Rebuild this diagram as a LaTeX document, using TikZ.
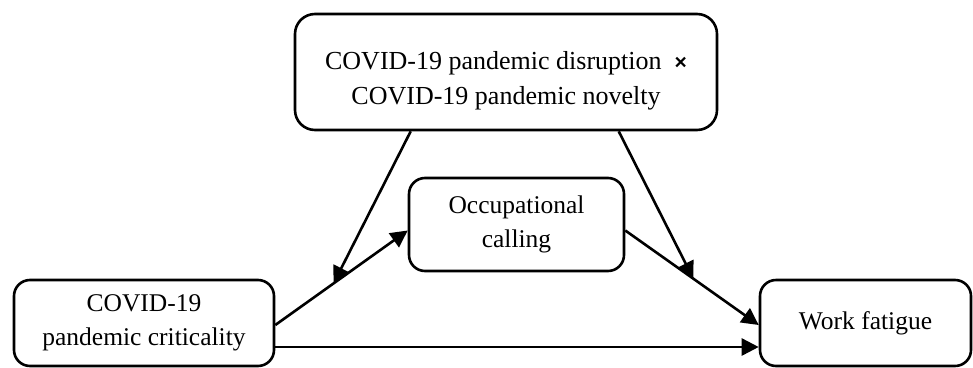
\documentclass[tikz,border=0pt]{standalone}
\usepackage{fontspec}
\setmainfont{Liberation Serif}
\newfontfamily\xfont{Liberation Sans}
\usetikzlibrary{arrows.meta,calc}
\begin{document}
\begin{tikzpicture}[x=1pt,y=-1pt,
  box/.style={draw,line width=2.6pt,inner sep=0pt,align=center,
    font=\fontsize{25.5}{34}\selectfont},
  arr/.style={line width=2.6pt,-{Triangle[length=17pt,width=17pt]}}]
\useasboundingbox (0,0) rectangle (973,367);
\node[box,rounded corners=20pt,minimum width=422pt,minimum height=116pt,
  font=\fontsize{26}{35}\selectfont] (T) at (506,72)
  {\raisebox{-8pt}[\height][\depth]{\begin{tabular}{@{}c@{}}COVID-19 pandemic disruption \ {\xfont\bfseries\fontsize{21}{21}\selectfont ×}\\COVID-19 pandemic novelty\end{tabular}}};
\node[box,rounded corners=16pt,minimum width=215pt,minimum height=93pt] (M) at (516.5,224.5)
  {Occupational\\calling};
\node[box,rounded corners=16pt,minimum width=260pt,minimum height=86pt] (L) at (144,323)
  {COVID-19\\pandemic criticality};
\node[box,rounded corners=16pt,minimum width=211pt,minimum height=86pt] (R) at (865.5,323)
  {Work fatigue};
\coordinate (a1) at ($(L.east)+(0,2)$);
\coordinate (a2) at ($(M.west)+(0,6)$);
\draw[arr] (a1) -- (a2) coordinate[pos=0.44] (p1);
\coordinate (b1) at ($(M.east)+(0,6)$);
\coordinate (b2) at ($(R.west)+(0,2)$);
\draw[arr] (b1) -- (b2) coordinate[pos=0.51] (p2);
\draw[arr] ($(L.east)+(0,24)$) -- ($(R.west)+(0,24)$);
\draw[arr] ($(T.south west)+(117,0)$) -- (p1);
\draw[arr] ($(T.south west)+(325,0)$) -- (p2);
\end{tikzpicture}
\end{document}
